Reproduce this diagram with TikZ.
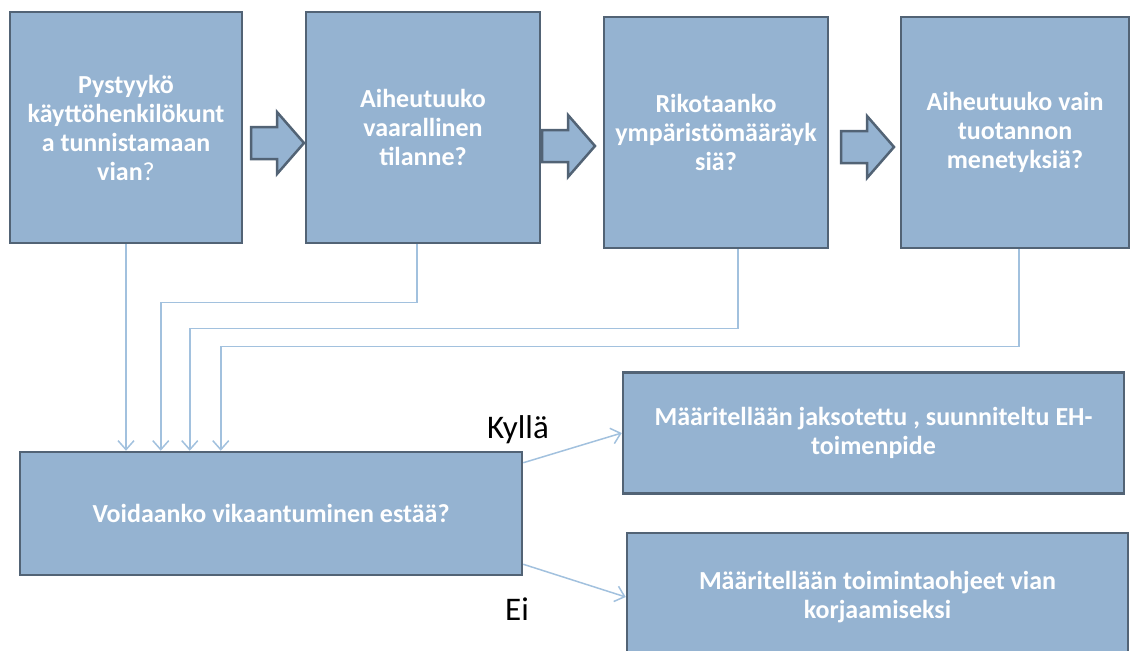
\documentclass[tikz,border=0pt]{standalone}
\usepackage{fontspec}
\setmainfont{Carlito}
\usetikzlibrary{arrows.meta}

\definecolor{boxfill}{RGB}{149,179,209}
\definecolor{boxline}{RGB}{82,99,117}
\definecolor{linkline}{RGB}{162,193,222}

\tikzset{
  qbox/.style={draw=boxline, line width=2.5pt, fill=boxfill, text=white,
    font=\fontsize{26}{29}\selectfont\bfseries, align=center, inner sep=0pt},
  bigarrow/.style={draw=boxline, line width=2.5pt, fill=boxfill, line join=miter},
  link/.style={draw=linkline, line width=1.5pt, -{Straight Barb[length=9pt,width=16pt]}},
  answer/.style={font=\fontsize{33}{38}\selectfont}
}

% wide block arrow, given its left middle point
\newcommand{\flowarrow}[1]{%
  \draw[bigarrow] (#1) ++(0,-16) -- ++(26,0) -- ++(0,-15) -- ++(27,31)
    -- ++(-27,31) -- ++(0,-15) -- ++(-26,0) -- cycle;}

\begin{document}
\begin{tikzpicture}[x=1pt,y=-1pt]
    \useasboundingbox (0,0) rectangle (1131,650);
    \clip (0,0) rectangle (1131,650);

    \node[qbox, minimum width=232pt, minimum height=231pt] (tunnistus) at (126,127.5)
      {Pystyykö\\käyttöhenkilökunt\\a tunnistamaan\\vian{\mdseries ?}};
    \node[qbox, minimum width=234pt, minimum height=231pt] (vaara) at (423,127.5)
      {Aiheutuuko\\vaarallinen\\tilanne?};
    \node[qbox, minimum width=224pt, minimum height=231pt] (ymparisto) at (716,132.5)
      {Rikotaanko\\ympäristömääräyk\\siä?};
    \node[qbox, minimum width=228pt, minimum height=231pt] (tuotanto) at (1015,132.5)
      {Aiheutuuko vain\\tuotannon\\menetyksiä?};

    \node[qbox, minimum width=502pt, minimum height=123pt] (estaa) at (271,513.5)
      {Voidaanko vikaantuminen estää?};
    \node[qbox, minimum width=501pt, minimum height=121pt] (jakso) at (873.5,433)
      {Määritellään jaksotettu , suunniteltu EH-\\toimenpide};
    \node[qbox, minimum width=501pt, minimum height=128pt] (ohjeet) at (877.5,597)
      {Määritellään toimintaohjeet vian\\korjaamiseksi};

    \flowarrow{251,143}
    \flowarrow{542,146}
    \flowarrow{841,147}

    \draw[link] (tunnistus.south) -- (tunnistus.south |- estaa.north);
    \draw[link] ([xshift=-6pt]vaara.south) -- ++(0,58) -| ([xshift=142pt]estaa.north west);
    \draw[link] ([xshift=22pt]ymparisto.south) -- ++(0,79) -| ([xshift=171pt]estaa.north west);
    \draw[link] ([xshift=4pt]tuotanto.south) -- ++(0,97) -| ([xshift=202pt]estaa.north west);

    \draw[link] ([yshift=-12pt]estaa.north east) -- (jakso.west);
    \draw[link] ([yshift=12pt]estaa.south east) -- (ohjeet.west);

    \node[answer] (kylla) at (518,430) {Kyllä};
    \node[answer] (ei) at (517,609) {Ei};
\end{tikzpicture}
\end{document}
